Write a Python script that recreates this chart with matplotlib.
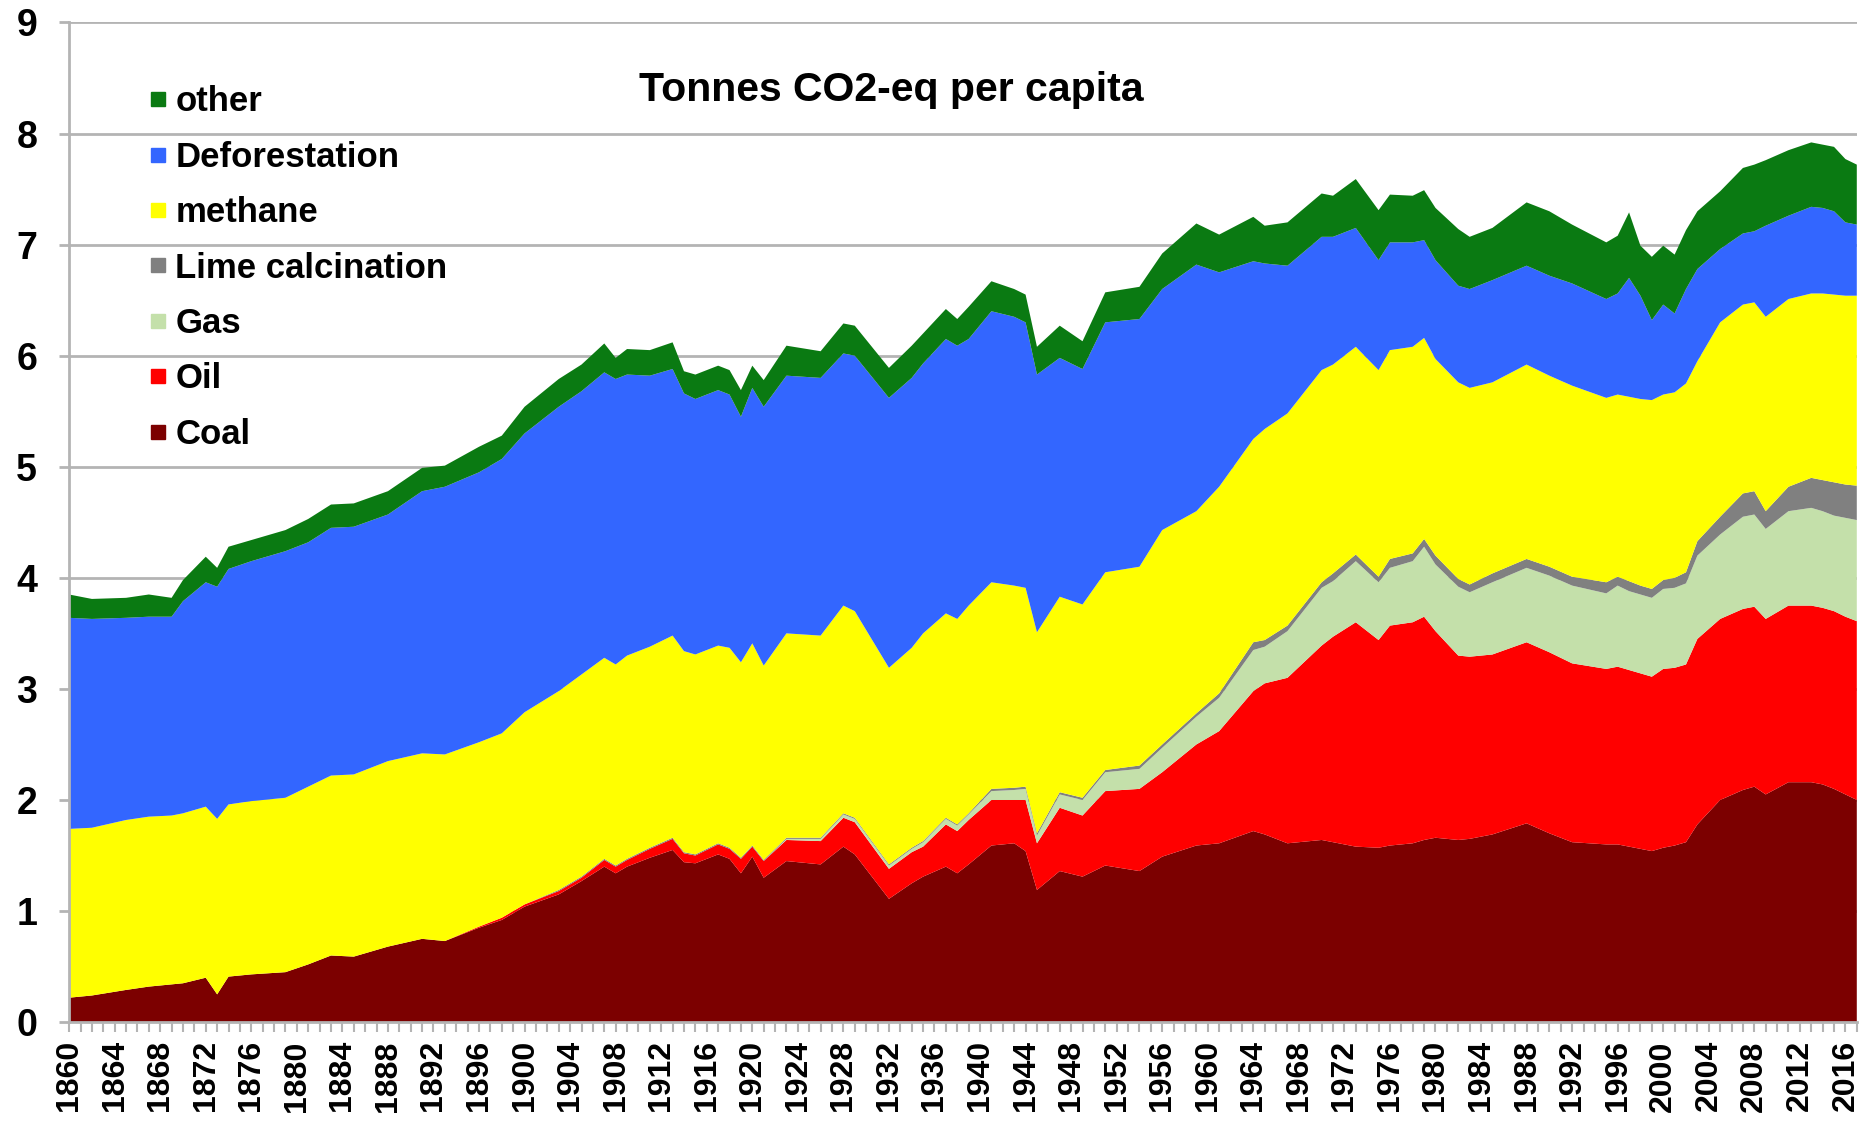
import numpy as np
import matplotlib.pyplot as plt
from matplotlib.lines import Line2D
from matplotlib.ticker import MultipleLocator

plt.rcParams['font.family'] = ['Liberation Sans', 'DejaVu Sans']
plt.rcParams['font.weight'] = 'bold'

# years (denser around the dips)
years = [1860, 1862, 1865, 1867, 1869, 1870, 1872, 1873, 1874, 1876,
         1879, 1881, 1883, 1885, 1888, 1891, 1893, 1896, 1898, 1900,
         1903, 1905, 1907, 1908, 1909, 1911, 1913, 1914, 1915, 1917,
         1918, 1919, 1920, 1921, 1923, 1926, 1928, 1929, 1932, 1934,
         1935, 1937, 1938, 1939, 1941, 1943, 1944, 1945, 1947, 1949,
         1951, 1954, 1956, 1959, 1961, 1964, 1965, 1967, 1970, 1971,
         1973, 1975, 1976, 1978, 1979, 1980, 1982, 1983, 1985, 1988,
         1990, 1992, 1995, 1996, 1997, 1998, 1999, 2000, 2001, 2002,
         2003, 2005, 2007, 2008, 2009, 2011, 2013, 2014, 2015, 2016,
         2017]

# tonnes CO2-eq per capita, per source
coal = [0.22, 0.24, 0.29, 0.32, 0.34, 0.35, 0.40, 0.25, 0.41, 0.43,
        0.45, 0.52, 0.60, 0.59, 0.68, 0.75, 0.73, 0.85, 0.92, 1.04,
        1.15, 1.27, 1.40, 1.34, 1.40, 1.48, 1.55, 1.44, 1.43, 1.51,
        1.47, 1.34, 1.49, 1.30, 1.45, 1.42, 1.58, 1.51, 1.11, 1.25,
        1.31, 1.40, 1.34, 1.42, 1.59, 1.61, 1.54, 1.19, 1.36, 1.31,
        1.41, 1.36, 1.49, 1.59, 1.61, 1.72, 1.69, 1.61, 1.64, 1.62,
        1.58, 1.57, 1.59, 1.61, 1.64, 1.66, 1.64, 1.65, 1.69, 1.79,
        1.70, 1.62, 1.60, 1.60, 1.58, 1.56, 1.54, 1.57, 1.59, 1.62,
        1.78, 2.00, 2.09, 2.12, 2.05, 2.16, 2.16, 2.14, 2.10, 2.05,
        2.00]
oil = [0, 0, 0, 0, 0, 0, 0, 0, 0, 0,
       0, 0, 0, 0, 0, 0, 0, 0.01, 0.02, 0.02,
       0.03, 0.03, 0.06, 0.06, 0.06, 0.08, 0.10, 0.08, 0.07, 0.09,
       0.09, 0.13, 0.09, 0.15, 0.19, 0.21, 0.26, 0.29, 0.27, 0.28,
       0.27, 0.38, 0.38, 0.40, 0.41, 0.39, 0.46, 0.42, 0.57, 0.55,
       0.67, 0.74, 0.76, 0.91, 1.01, 1.26, 1.36, 1.49, 1.75, 1.85,
       2.02, 1.87, 1.98, 1.99, 2.01, 1.86, 1.66, 1.64, 1.62, 1.63,
       1.63, 1.61, 1.58, 1.60, 1.59, 1.58, 1.57, 1.61, 1.60, 1.60,
       1.67, 1.63, 1.63, 1.62, 1.58, 1.59, 1.59, 1.59, 1.60, 1.60,
       1.61]
gas = [0, 0, 0, 0, 0, 0, 0, 0, 0, 0,
       0, 0, 0, 0, 0, 0, 0, 0, 0, 0,
       0, 0, 0, 0, 0, 0, 0, 0, 0, 0,
       0, 0, 0, 0, 0.01, 0.02, 0.03, 0.03, 0.03, 0.03,
       0.04, 0.05, 0.05, 0.05, 0.08, 0.09, 0.10, 0.07, 0.12, 0.14,
       0.17, 0.18, 0.22, 0.25, 0.30, 0.37, 0.33, 0.42, 0.52, 0.50,
       0.55, 0.52, 0.52, 0.55, 0.63, 0.60, 0.62, 0.58, 0.65, 0.67,
       0.69, 0.70, 0.68, 0.73, 0.71, 0.71, 0.71, 0.72, 0.72, 0.73,
       0.75, 0.76, 0.83, 0.83, 0.81, 0.85, 0.88, 0.87, 0.86, 0.89,
       0.91]
lime = [0, 0, 0, 0, 0, 0, 0, 0, 0, 0,
        0, 0, 0, 0, 0, 0, 0, 0, 0, 0,
        0.01, 0.01, 0.01, 0.01, 0.01, 0.01, 0.01, 0.01, 0.01, 0.01,
        0.01, 0.01, 0.01, 0.01, 0.01, 0.01, 0.01, 0.01, 0.01, 0.01,
        0.01, 0.01, 0.01, 0.01, 0.02, 0.02, 0.02, 0.02, 0.02, 0.02,
        0.02, 0.03, 0.03, 0.03, 0.04, 0.07, 0.06, 0.05, 0.05, 0.07,
        0.06, 0.05, 0.08, 0.07, 0.07, 0.08, 0.07, 0.07, 0.08, 0.08,
        0.08, 0.08, 0.10, 0.08, 0.09, 0.08, 0.08, 0.08, 0.09, 0.10,
        0.13, 0.16, 0.21, 0.21, 0.16, 0.22, 0.27, 0.28, 0.30, 0.30,
        0.31]
methane = [1.52, 1.51, 1.53, 1.53, 1.52, 1.53, 1.54, 1.58, 1.55, 1.56,
           1.57, 1.60, 1.62, 1.64, 1.67, 1.67, 1.68, 1.66, 1.66, 1.73,
           1.79, 1.82, 1.81, 1.81, 1.83, 1.81, 1.82, 1.81, 1.80, 1.78,
           1.80, 1.76, 1.82, 1.75, 1.84, 1.82, 1.87, 1.86, 1.77, 1.80,
           1.87, 1.84, 1.85, 1.87, 1.86, 1.82, 1.79, 1.81, 1.76, 1.74,
           1.78, 1.79, 1.93, 1.82, 1.86, 1.83, 1.90, 1.91, 1.91, 1.88,
           1.87, 1.86, 1.88, 1.86, 1.81, 1.77, 1.77, 1.77, 1.72, 1.75,
           1.72, 1.72, 1.66, 1.64, 1.66, 1.68, 1.70, 1.67, 1.67, 1.70,
           1.62, 1.75, 1.70, 1.70, 1.75, 1.69, 1.66, 1.68, 1.69, 1.70,
           1.71]
deforestation = [1.90, 1.88, 1.82, 1.80, 1.79, 1.91, 2.02, 2.09, 2.12, 2.16,
                 2.22, 2.20, 2.23, 2.23, 2.22, 2.36, 2.41, 2.43, 2.47, 2.51,
                 2.56, 2.55, 2.57, 2.57, 2.53, 2.44, 2.40, 2.32, 2.30, 2.30,
                 2.28, 2.21, 2.30, 2.33, 2.32, 2.32, 2.27, 2.30, 2.43, 2.43,
                 2.43, 2.47, 2.46, 2.40, 2.44, 2.42, 2.39, 2.32, 2.15, 2.12,
                 2.25, 2.23, 2.17, 2.22, 1.93, 1.60, 1.49, 1.33, 1.20, 1.15,
                 1.07, 0.99, 0.97, 0.94, 0.88, 0.89, 0.87, 0.89, 0.92, 0.89,
                 0.90, 0.92, 0.89, 0.91, 1.07, 0.93, 0.72, 0.81, 0.71, 0.85,
                 0.83, 0.66, 0.64, 0.64, 0.82, 0.75, 0.78, 0.77, 0.75, 0.66,
                 0.64]
other = [0.21, 0.18, 0.18, 0.20, 0.17, 0.19, 0.23, 0.17, 0.20, 0.19,
         0.19, 0.21, 0.21, 0.21, 0.21, 0.21, 0.19, 0.23, 0.21, 0.24,
         0.25, 0.24, 0.26, 0.19, 0.23, 0.23, 0.24, 0.20, 0.22, 0.22,
         0.22, 0.24, 0.20, 0.24, 0.27, 0.24, 0.27, 0.27, 0.27, 0.29,
         0.27, 0.27, 0.24, 0.29, 0.27, 0.25, 0.25, 0.25, 0.29, 0.25,
         0.27, 0.29, 0.32, 0.37, 0.34, 0.40, 0.34, 0.39, 0.39, 0.37,
         0.44, 0.45, 0.43, 0.42, 0.45, 0.47, 0.51, 0.47, 0.47, 0.57,
         0.58, 0.53, 0.51, 0.52, 0.59, 0.45, 0.57, 0.53, 0.53, 0.53,
         0.52, 0.52, 0.59, 0.60, 0.59, 0.59, 0.58, 0.57, 0.58, 0.57,
         0.54]

labels = ['Coal', 'Oil', 'Gas', 'Lime calcination', 'methane', 'Deforestation', 'other']
colors = ['#7c0000', '#ff0000', '#c4e0aa', '#808080', '#ffff00', '#3366ff', '#0a7a12']
series = [coal, oil, gas, lime, methane, deforestation, other]

fig = plt.figure(figsize=(18.68, 11.22), dpi=100)
ax = fig.add_axes([0.037, 0.089, 0.957, 0.891])

ax.stackplot(years, series, colors=colors, linewidth=0)

ax.set_xlim(1860, 2017)
ax.set_ylim(0, 9)

# y axis
ax.set_yticks(range(10))
ax.tick_params(axis='y', labelsize=27, length=7, width=2, color='#b4b4b4', pad=16)
ax.yaxis.grid(True, color='#b4b4b4', linewidth=2)
ax.set_axisbelow(True)

# x axis: label every 4th year, tick every year
ax.set_xticks(range(1860, 2017, 4))
ax.xaxis.set_minor_locator(MultipleLocator(1))
ax.tick_params(axis='x', which='both', length=7, width=1.5, color='#b4b4b4')
ax.tick_params(axis='x', labelsize=23, labelrotation=90, pad=6)

for s in ['top', 'right']:
    ax.spines[s].set_visible(False)
for s in ['left', 'bottom']:
    ax.spines[s].set_color('#b4b4b4')
    ax.spines[s].set_linewidth(2)

ax.text(0.46, 0.932, 'Tonnes CO2-eq per capita', transform=ax.transAxes,
        ha='center', va='center', fontsize=29.5, fontweight='bold')

handles = [Line2D([], [], marker='s', linestyle='', color=c, markersize=10) for c in colors]
ax.legend(handles[::-1], labels[::-1], loc='upper left', bbox_to_anchor=(0.043, 0.937),
          frameon=False, fontsize=25, handlelength=0.7, handletextpad=0.15,
          labelspacing=0.645, borderpad=0, borderaxespad=0)

fig.savefig('out.png', dpi=100)
